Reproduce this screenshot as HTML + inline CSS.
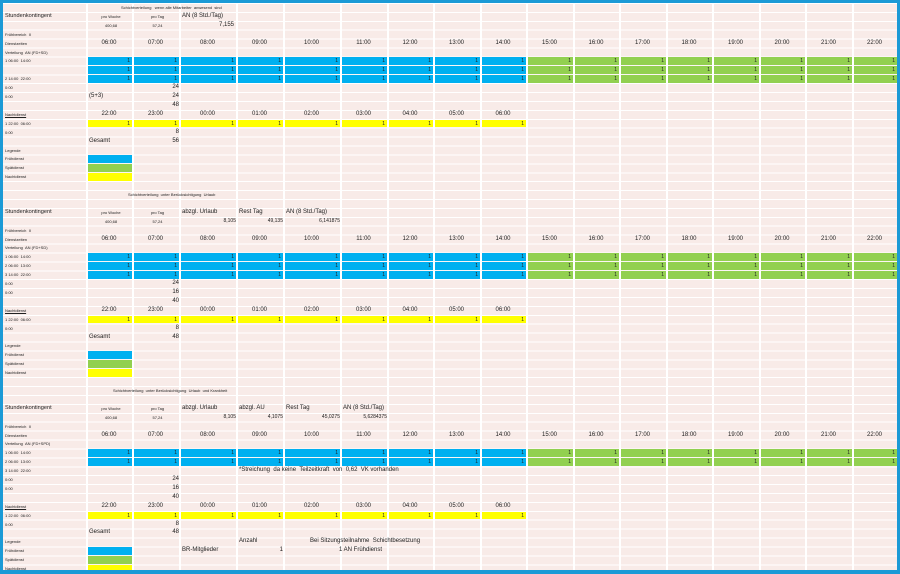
<!DOCTYPE html>
<html><head><meta charset="utf-8"><style>
html,body{margin:0;padding:0}
body{width:900px;height:574px;position:relative;overflow:hidden;background:#1b9ad6;font-family:"Liberation Sans",sans-serif;color:#222}
#sheet{position:absolute;left:3px;top:3px;width:894px;height:567px;background:#f8ebe8;overflow:hidden}
#g{position:absolute;left:0;top:0px;width:895px;display:grid;grid-template-columns:84px 46px 47px 57px 47px 57px 47px 46px 47px 46px 47px 46px 47px 46px 47px 46px 47px 45px;grid-template-rows:repeat(64,8.909px);z-index:2}
#g>div{white-space:nowrap;font-size:6px;line-height:9px;overflow:visible;padding-left:2px}
#g>div.r{padding-left:0;padding-right:1px}
.rw{grid-column:2/19;display:grid;grid-template-columns:46px 47px 57px 47px 57px 47px 46px 47px 46px 47px 46px 47px 46px 47px 46px 47px 45px;padding-left:0!important}
.rw i{font-style:normal;text-align:right;padding-right:2px;font-size:5px;line-height:8px;height:7.5px;margin:1px 1px 0 1px}
.hr i{font-style:normal;text-align:center;font-size:6px;line-height:9px;height:9px;margin:0}
.b{background:#00b0f0}.gr{background:#92d050}.y{background:#ffff00}
#g>div.b,#g>div.gr,#g>div.y{margin:1px 1px 0 1px;padding:0}
.s{font-size:4px!important}
.m{font-size:5.6px!important}
.r{text-align:right}.c{text-align:center}
#hl{position:absolute;left:0;top:0;width:894px;height:567px;background:repeating-linear-gradient(to bottom,#fff 0,#fff 1px,transparent 1px,transparent 8.909px);z-index:1}
.vl{position:absolute;top:0;height:567px;width:2px;background:#fff;z-index:1}
</style></head><body>
<div id="sheet">
<div id="hl"></div>
<div class="vl" style="left:83px"></div><div class="vl" style="left:129px"></div><div class="vl" style="left:176px"></div><div class="vl" style="left:233px"></div><div class="vl" style="left:280px"></div><div class="vl" style="left:337px"></div><div class="vl" style="left:384px"></div><div class="vl" style="left:430px"></div><div class="vl" style="left:477px"></div><div class="vl" style="left:523px"></div><div class="vl" style="left:570px"></div><div class="vl" style="left:616px"></div><div class="vl" style="left:663px"></div><div class="vl" style="left:709px"></div><div class="vl" style="left:756px"></div><div class="vl" style="left:802px"></div><div class="vl" style="left:849px"></div>
<div id="g">
<!-- Section 1 -->
<div class="s" style="grid-row:1;grid-column:2/7;padding-left:34px!important">Schichtverteilung &nbsp; wenn alle Mitarbeiter &nbsp;anwesend &nbsp;sind</div>
<div class="m" style="grid-row:2;grid-column:1">Stundenkontingent</div>
<div class="s c" style="grid-row:2;grid-column:2">pro Woche</div>
<div class="s c" style="grid-row:2;grid-column:3">pro Tag</div>
<div style="grid-row:2;grid-column:4/6">AN (8 Std./Tag)</div>
<div class="s c" style="grid-row:3;grid-column:2">400,68</div>
<div class="s c" style="grid-row:3;grid-column:3">57,24</div>
<div class="r" style="grid-row:3;grid-column:4/6;padding-right:50px!important">7,155</div>
<div class="s" style="grid-row:4;grid-column:1">Frühbereich &nbsp;II</div>
<div class="s" style="grid-row:5;grid-column:1">Dienstzeiten</div>
<div class="rw hr" style="grid-row:5"><i>06:00</i><i>07:00</i><i>08:00</i><i>09:00</i><i>10:00</i><i>11:00</i><i>12:00</i><i>13:00</i><i>14:00</i><i>15:00</i><i>16:00</i><i>17:00</i><i>18:00</i><i>19:00</i><i>20:00</i><i>21:00</i><i>22:00</i></div>
<div class="s" style="grid-row:6;grid-column:1">Verteilung &nbsp;AN (FD+SD)</div>
<div class="s" style="grid-row:7;grid-column:1">1 06:00 &nbsp;14:00</div>
<div class="rw" style="grid-row:7"><i class="b">1</i><i class="b">1</i><i class="b">1</i><i class="b">1</i><i class="b">1</i><i class="b">1</i><i class="b">1</i><i class="b">1</i><i class="b">1</i><i class="gr">1</i><i class="gr">1</i><i class="gr">1</i><i class="gr">1</i><i class="gr">1</i><i class="gr">1</i><i class="gr">1</i><i class="gr">1</i></div>
<div class="rw" style="grid-row:8"><i class="b">1</i><i class="b">1</i><i class="b">1</i><i class="b">1</i><i class="b">1</i><i class="b">1</i><i class="b">1</i><i class="b">1</i><i class="b">1</i><i class="gr">1</i><i class="gr">1</i><i class="gr">1</i><i class="gr">1</i><i class="gr">1</i><i class="gr">1</i><i class="gr">1</i><i class="gr">1</i></div>
<div class="s" style="grid-row:9;grid-column:1">2 14:00 &nbsp;22:00</div>
<div class="rw" style="grid-row:9"><i class="b">1</i><i class="b">1</i><i class="b">1</i><i class="b">1</i><i class="b">1</i><i class="b">1</i><i class="b">1</i><i class="b">1</i><i class="b">1</i><i class="gr">1</i><i class="gr">1</i><i class="gr">1</i><i class="gr">1</i><i class="gr">1</i><i class="gr">1</i><i class="gr">1</i><i class="gr">1</i></div>
<div class="s" style="grid-row:10;grid-column:1">0:00</div>
<div class="r" style="grid-row:10;grid-column:3">24</div>
<div class="s" style="grid-row:11;grid-column:1">0:00</div>
<div style="grid-row:11;grid-column:2">(5+3)</div>
<div class="r" style="grid-row:11;grid-column:3">24</div>
<div class="r" style="grid-row:12;grid-column:3">48</div>
<div class="s" style="grid-row:13;grid-column:1;text-decoration:underline">Nachtdienst</div>
<div class="rw hr" style="grid-row:13"><i>22:00</i><i>23:00</i><i>00:00</i><i>01:00</i><i>02:00</i><i>03:00</i><i>04:00</i><i>05:00</i><i>06:00</i></div>
<div class="s" style="grid-row:14;grid-column:1">1 22:00 &nbsp;06:00</div>
<div class="rw" style="grid-row:14"><i class="y">1</i><i class="y">1</i><i class="y">1</i><i class="y">1</i><i class="y">1</i><i class="y">1</i><i class="y">1</i><i class="y">1</i><i class="y">1</i></div>
<div class="s" style="grid-row:15;grid-column:1">0:00</div>
<div class="r" style="grid-row:15;grid-column:3">8</div>
<div style="grid-row:16;grid-column:2">Gesamt</div>
<div class="r" style="grid-row:16;grid-column:3">56</div>
<div class="s" style="grid-row:17;grid-column:1">Legende</div>
<div class="s" style="grid-row:18;grid-column:1">Frühdienst</div>
<div class="b" style="grid-row:18;grid-column:2"></div>
<div class="s" style="grid-row:19;grid-column:1">Spätdienst</div>
<div class="gr" style="grid-row:19;grid-column:2"></div>
<div class="s" style="grid-row:20;grid-column:1">Nachtdienst</div>
<div class="y" style="grid-row:20;grid-column:2"></div>

<!-- Section 2 -->
<div class="s" style="grid-row:22;grid-column:2/7;padding-left:41px!important">Schichtverteilung &nbsp;unter Berücksichtigung &nbsp;Urlaub</div>
<div class="m" style="grid-row:24;grid-column:1">Stundenkontingent</div>
<div class="s c" style="grid-row:24;grid-column:2">pro Woche</div>
<div class="s c" style="grid-row:24;grid-column:3">pro Tag</div>
<div style="grid-row:24;grid-column:4">abzgl. Urlaub</div>
<div style="grid-row:24;grid-column:5">Rest Tag</div>
<div style="grid-row:24;grid-column:6/8">AN (8 Std./Tag)</div>
<div class="s c" style="grid-row:25;grid-column:2">400,68</div>
<div class="s c" style="grid-row:25;grid-column:3">57,24</div>
<div class="r" style="grid-row:25;grid-column:4;font-size:5px!important">8,105</div>
<div class="r" style="grid-row:25;grid-column:5;font-size:5px!important">49,135</div>
<div class="r" style="grid-row:25;grid-column:6;font-size:5px!important">6,141875</div>
<div class="s" style="grid-row:26;grid-column:1">Frühbereich &nbsp;II</div>
<div class="s" style="grid-row:27;grid-column:1">Dienstzeiten</div>
<div class="rw hr" style="grid-row:27"><i>06:00</i><i>07:00</i><i>08:00</i><i>09:00</i><i>10:00</i><i>11:00</i><i>12:00</i><i>13:00</i><i>14:00</i><i>15:00</i><i>16:00</i><i>17:00</i><i>18:00</i><i>19:00</i><i>20:00</i><i>21:00</i><i>22:00</i></div>
<div class="s" style="grid-row:28;grid-column:1">Verteilung &nbsp;AN (FD+SD)</div>
<div class="s" style="grid-row:29;grid-column:1">1 06:00 &nbsp;14:00</div>
<div class="rw" style="grid-row:29"><i class="b">1</i><i class="b">1</i><i class="b">1</i><i class="b">1</i><i class="b">1</i><i class="b">1</i><i class="b">1</i><i class="b">1</i><i class="b">1</i><i class="gr">1</i><i class="gr">1</i><i class="gr">1</i><i class="gr">1</i><i class="gr">1</i><i class="gr">1</i><i class="gr">1</i><i class="gr">1</i></div>
<div class="s" style="grid-row:30;grid-column:1">2 06:00 &nbsp;13:00</div>
<div class="rw" style="grid-row:30"><i class="b">1</i><i class="b">1</i><i class="b">1</i><i class="b">1</i><i class="b">1</i><i class="b">1</i><i class="b">1</i><i class="b">1</i><i class="b">1</i><i class="gr">1</i><i class="gr">1</i><i class="gr">1</i><i class="gr">1</i><i class="gr">1</i><i class="gr">1</i><i class="gr">1</i><i class="gr">1</i></div>
<div class="s" style="grid-row:31;grid-column:1">3 14:00 &nbsp;22:00</div>
<div class="rw" style="grid-row:31"><i class="b">1</i><i class="b">1</i><i class="b">1</i><i class="b">1</i><i class="b">1</i><i class="b">1</i><i class="b">1</i><i class="b">1</i><i class="b">1</i><i class="gr">1</i><i class="gr">1</i><i class="gr">1</i><i class="gr">1</i><i class="gr">1</i><i class="gr">1</i><i class="gr">1</i><i class="gr">1</i></div>
<div class="s" style="grid-row:32;grid-column:1">0:00</div>
<div class="r" style="grid-row:32;grid-column:3">24</div>
<div class="s" style="grid-row:33;grid-column:1">0:00</div>
<div class="r" style="grid-row:33;grid-column:3">16</div>
<div class="r" style="grid-row:34;grid-column:3">40</div>
<div class="s" style="grid-row:35;grid-column:1;text-decoration:underline">Nachtdienst</div>
<div class="rw hr" style="grid-row:35"><i>22:00</i><i>23:00</i><i>00:00</i><i>01:00</i><i>02:00</i><i>03:00</i><i>04:00</i><i>05:00</i><i>06:00</i></div>
<div class="s" style="grid-row:36;grid-column:1">1 22:00 &nbsp;06:00</div>
<div class="rw" style="grid-row:36"><i class="y">1</i><i class="y">1</i><i class="y">1</i><i class="y">1</i><i class="y">1</i><i class="y">1</i><i class="y">1</i><i class="y">1</i><i class="y">1</i></div>
<div class="s" style="grid-row:37;grid-column:1">0:00</div>
<div class="r" style="grid-row:37;grid-column:3">8</div>
<div style="grid-row:38;grid-column:2">Gesamt</div>
<div class="r" style="grid-row:38;grid-column:3">48</div>
<div class="s" style="grid-row:39;grid-column:1">Legende</div>
<div class="s" style="grid-row:40;grid-column:1">Frühdienst</div>
<div class="b" style="grid-row:40;grid-column:2"></div>
<div class="s" style="grid-row:41;grid-column:1">Spätdienst</div>
<div class="gr" style="grid-row:41;grid-column:2"></div>
<div class="s" style="grid-row:42;grid-column:1">Nachtdienst</div>
<div class="y" style="grid-row:42;grid-column:2"></div>

<!-- Section 3 -->
<div class="s" style="grid-row:44;grid-column:2/7;padding-left:26px!important">Schichtverteilung &nbsp;unter Berücksichtigung &nbsp;Urlaub &nbsp;und Krankheit</div>
<div class="m" style="grid-row:46;grid-column:1">Stundenkontingent</div>
<div class="s c" style="grid-row:46;grid-column:2">pro Woche</div>
<div class="s c" style="grid-row:46;grid-column:3">pro Tag</div>
<div style="grid-row:46;grid-column:4">abzgl. Urlaub</div>
<div style="grid-row:46;grid-column:5">abzgl. AU</div>
<div style="grid-row:46;grid-column:6">Rest Tag</div>
<div style="grid-row:46;grid-column:7/9">AN (8 Std./Tag)</div>
<div class="s c" style="grid-row:47;grid-column:2">400,68</div>
<div class="s c" style="grid-row:47;grid-column:3">57,24</div>
<div class="r" style="grid-row:47;grid-column:4;font-size:5px!important">8,105</div>
<div class="r" style="grid-row:47;grid-column:5;font-size:5px!important">4,1075</div>
<div class="r" style="grid-row:47;grid-column:6;font-size:5px!important">45,0275</div>
<div class="r" style="grid-row:47;grid-column:7;font-size:5px!important">5,6284375</div>
<div class="s" style="grid-row:48;grid-column:1">Frühbereich &nbsp;II</div>
<div class="s" style="grid-row:49;grid-column:1">Dienstzeiten</div>
<div class="rw hr" style="grid-row:49"><i>06:00</i><i>07:00</i><i>08:00</i><i>09:00</i><i>10:00</i><i>11:00</i><i>12:00</i><i>13:00</i><i>14:00</i><i>15:00</i><i>16:00</i><i>17:00</i><i>18:00</i><i>19:00</i><i>20:00</i><i>21:00</i><i>22:00</i></div>
<div class="s" style="grid-row:50;grid-column:1">Verteilung &nbsp;AN (FD+SPD)</div>
<div class="s" style="grid-row:51;grid-column:1">1 06:00 &nbsp;14:00</div>
<div class="rw" style="grid-row:51"><i class="b">1</i><i class="b">1</i><i class="b">1</i><i class="b">1</i><i class="b">1</i><i class="b">1</i><i class="b">1</i><i class="b">1</i><i class="b">1</i><i class="gr">1</i><i class="gr">1</i><i class="gr">1</i><i class="gr">1</i><i class="gr">1</i><i class="gr">1</i><i class="gr">1</i><i class="gr">1</i></div>
<div class="s" style="grid-row:52;grid-column:1">2 06:00 &nbsp;13:00</div>
<div class="rw" style="grid-row:52"><i class="b">1</i><i class="b">1</i><i class="b">1</i><i class="b">1</i><i class="b">1</i><i class="b">1</i><i class="b">1</i><i class="b">1</i><i class="b">1</i><i class="gr">1</i><i class="gr">1</i><i class="gr">1</i><i class="gr">1</i><i class="gr">1</i><i class="gr">1</i><i class="gr">1</i><i class="gr">1</i></div>
<div class="s" style="grid-row:53;grid-column:1">3 14:00 &nbsp;22:00</div>
<div style="grid-row:53;grid-column:5/11">*Streichung &nbsp;da keine &nbsp;Teilzeitkraft &nbsp;von &nbsp;0,62 &nbsp;VK vorhanden</div>
<div class="s" style="grid-row:54;grid-column:1">0:00</div>
<div class="r" style="grid-row:54;grid-column:3">24</div>
<div class="s" style="grid-row:55;grid-column:1">0:00</div>
<div class="r" style="grid-row:55;grid-column:3">16</div>
<div class="r" style="grid-row:56;grid-column:3">40</div>
<div class="s" style="grid-row:57;grid-column:1;text-decoration:underline">Nachtdienst</div>
<div class="rw hr" style="grid-row:57"><i>22:00</i><i>23:00</i><i>00:00</i><i>01:00</i><i>02:00</i><i>03:00</i><i>04:00</i><i>05:00</i><i>06:00</i></div>
<div class="s" style="grid-row:58;grid-column:1">1 22:00 &nbsp;06:00</div>
<div class="rw" style="grid-row:58"><i class="y">1</i><i class="y">1</i><i class="y">1</i><i class="y">1</i><i class="y">1</i><i class="y">1</i><i class="y">1</i><i class="y">1</i><i class="y">1</i></div>
<div class="s" style="grid-row:59;grid-column:1">0:00</div>
<div class="r" style="grid-row:59;grid-column:3">8</div>
<div style="grid-row:60;grid-column:2">Gesamt</div>
<div class="r" style="grid-row:60;grid-column:3">48</div>
<div class="s" style="grid-row:61;grid-column:1">Legende</div>
<div style="grid-row:61;grid-column:5">Anzahl</div>
<div style="grid-row:61;grid-column:6/10;padding-left:26px!important">Bei Sitzungsteilnahme &nbsp;Schichtbesetzung</div>
<div class="s" style="grid-row:62;grid-column:1">Frühdienst</div>
<div class="b" style="grid-row:62;grid-column:2"></div>
<div style="grid-row:62;grid-column:4">BR-Mitglieder</div>
<div class="r" style="grid-row:62;grid-column:5">1</div>
<div style="grid-row:62;grid-column:6/9;padding-left:55px!important">1 AN Frühdienst</div>
<div class="s" style="grid-row:63;grid-column:1">Spätdienst</div>
<div class="gr" style="grid-row:63;grid-column:2"></div>
<div class="s" style="grid-row:64;grid-column:1">Nachtdienst</div>
<div class="y" style="grid-row:64;grid-column:2"></div>
</div>
</div>
</body></html>
